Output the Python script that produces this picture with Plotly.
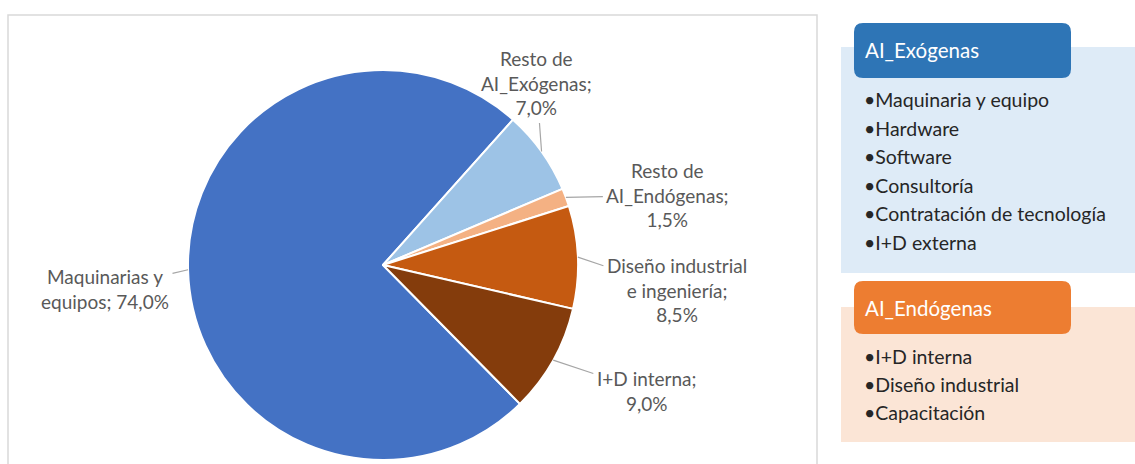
import math
import plotly.graph_objects as go

# ---- data ----
labels = ["Maquinarias y<br>equipos", "Resto de<br>AI_Exógenas", "Resto de<br>AI_Endógenas",
          "Diseño industrial<br>e ingeniería", "I+D interna"]
label_text = ["Maquinarias y<br>equipos; 74,0%", "Resto de<br>AI_Exógenas;<br>7,0%",
              "Resto de<br>AI_Endógenas;<br>1,5%", "Diseño industrial<br>e ingeniería;<br>8,5%",
              "I+D interna;<br>9,0%"]
values = [74.0, 7.0, 1.5, 8.5, 9.0]
colors = ["#4472C4", "#9DC3E6", "#F4B183", "#C55A11", "#843C0C"]

exo_title = "AI_Exógenas"
exo_items = ["Maquinaria y equipo", "Hardware", "Software", "Consultoría",
             "Contratación de tecnología", "I+D externa"]
endo_title = "AI_Endógenas"
endo_items = ["I+D interna", "Diseño industrial", "Capacitación"]

# ---- layout constants ----
W, H = 1135, 464
CX, CY, R = 383, 265, 195   # pixel centre / radius of pie
ROT = 135.4
FONT = "Lato"

fig = go.Figure()
fig.add_trace(go.Pie(
    labels=labels, values=values, sort=False, direction="clockwise", rotation=ROT,
    marker=dict(colors=colors, line=dict(color="white", width=2)),
    textinfo="none", hoverinfo="label+percent", showlegend=False,
    domain=dict(x=[(CX - R) / W, (CX + R) / W], y=[1 - (CY + R) / H, 1 - (CY - R) / H]),
))

# label offsets (pixels) from slice edge
offsets = [(-83, 19), (-5, -68), (102, -2), (99, 33), (93, 31)]
total = sum(values)
cum = 0.0
annotations = []
for txt, v, (ax, ay) in zip(label_text, values, offsets):
    mid = ROT + (cum + v / 2) / total * 360
    cum += v
    a = math.radians(mid)
    px = CX + R * math.sin(a)
    py = CY - R * math.cos(a)
    annotations.append(dict(
        x=px / W, y=1 - py / H, xref="paper", yref="paper", text=txt,
        showarrow=True, arrowhead=0, arrowwidth=1.2, arrowcolor="#A6A6A6",
        ax=ax, ay=ay, standoff=0, startstandoff=2,
        font=dict(family=FONT, size=19, color="#595959"), align="center",
    ))

shapes = []
# chart border
shapes.append(dict(type="rect", xref="paper", yref="paper", x0=8 / W, x1=817 / W,
                   y0=-0.05, y1=1 - 15 / H, line=dict(color="#D9D9D9", width=1.5),
                   fillcolor="rgba(0,0,0,0)", layer="below"))


def rrect(x0, y0, x1, y1, r):
    # pixel coords -> paper path with rounded corners
    def P(x, y):
        return f"{x / W:.5f},{1 - y / H:.5f}"
    return (f"M {P(x0 + r, y0)} L {P(x1 - r, y0)} Q {P(x1, y0)} {P(x1, y0 + r)} "
            f"L {P(x1, y1 - r)} Q {P(x1, y1)} {P(x1 - r, y1)} L {P(x0 + r, y1)} "
            f"Q {P(x0, y1)} {P(x0, y1 - r)} L {P(x0, y0 + r)} Q {P(x0, y0)} {P(x0 + r, y0)} Z")


# blue panel
shapes.append(dict(type="rect", xref="paper", yref="paper", x0=841 / W, x1=1.01,
                   y0=1 - 273 / H, y1=1 - 47 / H, fillcolor="#DEEBF7", line=dict(width=0)))
shapes.append(dict(type="path", xref="paper", yref="paper", path=rrect(854, 23, 1071, 78, 9),
                   fillcolor="#2E75B6", line=dict(width=0)))
# orange panel
shapes.append(dict(type="rect", xref="paper", yref="paper", x0=841 / W, x1=1.01,
                   y0=1 - 442 / H, y1=1 - 307 / H, fillcolor="#FBE5D6", line=dict(width=0)))
shapes.append(dict(type="path", xref="paper", yref="paper", path=rrect(854, 281, 1071, 334, 9),
                   fillcolor="#ED7D31", line=dict(width=0)))


def text_ann(txt, x, y, size, color):
    return dict(x=x / W, y=1 - y / H, xref="paper", yref="paper", text=txt, showarrow=False,
                xanchor="left", yanchor="middle", font=dict(family=FONT, size=size, color=color))


annotations.append(text_ann(exo_title, 863, 50, 20.5, "white"))
for i, it in enumerate(exo_items):
    annotations.append(text_ann("•" + it, 862, 100 + i * 28.4, 19.5, "#262626"))
annotations.append(text_ann(endo_title, 863, 308, 20.5, "white"))
for i, it in enumerate(endo_items):
    annotations.append(text_ann("•" + it, 862, 356 + i * 28.2, 19.5, "#262626"))

fig.update_layout(
    width=W, height=H, margin=dict(l=0, r=0, t=0, b=0),
    paper_bgcolor="white", plot_bgcolor="white",
    shapes=shapes, annotations=annotations,
)
fig.write_html("out.html", config={"displayModeBar": False},
               post_script="document.body.style.margin='0';")
